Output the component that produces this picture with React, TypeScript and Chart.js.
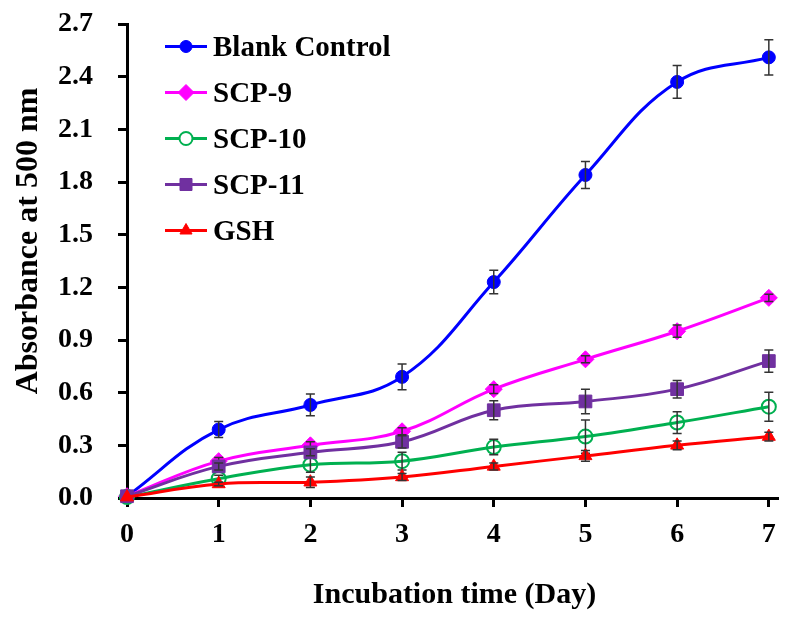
import React, { useEffect, useRef } from 'react';
import { Chart, registerables } from 'chart.js';
import { drawPoint } from 'chart.js/helpers';

Chart.register(...registerables);

// ---------- data ----------
const days = [0, 1, 2, 3, 4, 5, 6, 7];
const seriesNames = ['Blank Control', 'SCP-9', 'SCP-10', 'SCP-11', 'GSH'];

const blankControl = [0.01, 0.39, 0.53, 0.69, 1.23, 1.84, 2.37, 2.51];
const blankControlErr = [0, 0.046, 0.062, 0.074, 0.067, 0.077, 0.093, 0.1];

const scp9 = [0.01, 0.21, 0.3, 0.38, 0.62, 0.79, 0.95, 1.14];
const scp9Err = [0, 0.02, 0.02, 0.02, 0.025, 0.02, 0.035, 0.02];

const scp10 = [0.005, 0.11, 0.19, 0.21, 0.29, 0.35, 0.43, 0.52];
const scp10Err = [0, 0.02, 0.043, 0.05, 0.044, 0.095, 0.062, 0.083];

const scp11 = [0.01, 0.18, 0.26, 0.32, 0.5, 0.55, 0.62, 0.78];
const scp11Err = [0, 0.02, 0.02, 0.035, 0.054, 0.07, 0.05, 0.063];

const gsh = [0.005, 0.08, 0.09, 0.12, 0.18, 0.24, 0.3, 0.35];
const gshErr = [0, 0.01, 0.03, 0.02, 0.02, 0.03, 0.025, 0.025];

const yTickValues = [0, 0.3, 0.6, 0.9, 1.2, 1.5, 1.8, 2.1, 2.4, 2.7];
const xTickValues = [0, 1, 2, 3, 4, 5, 6, 7];

const xTitle = 'Incubation time (Day)';
const yTitle = 'Absorbance at 500 nm';

// ---------- styles ----------
const FONT = '"Times New Roman", "Liberation Serif", serif';
const seriesValues = [blankControl, scp9, scp10, scp11, gsh];
const seriesErrors = [blankControlErr, scp9Err, scp10Err, scp11Err, gshErr];
const seriesColors = ['#0000FF', '#FF00FF', '#00B050', '#7030A0', '#FF0000'];
const seriesStyles = ['circle', 'rectRot', 'circle', 'rect', 'triangle'];
const seriesRadius = [6.5, 8.5, 7, 9, 7.5];
const seriesFill = ['#0000FF', '#FF00FF', 'rgba(0,0,0,0)', '#7030A0', '#FF0000'];
const seriesPointBorder = [1, 1, 2, 1, 1];

const errorBarPlugin = {
  id: 'errorBars',
  afterDatasetDraw(chart: any, args: any) {
    const i = args.index;
    const errs = seriesErrors[i];
    const vals = seriesValues[i];
    const meta = chart.getDatasetMeta(i);
    const yScale = chart.scales.y;
    const ctx = chart.ctx;
    ctx.save();
    ctx.strokeStyle = '#333333';
    ctx.lineWidth = 1.5;
    meta.data.forEach((pt: any, j: number) => {
      const e = errs[j];
      if (!e) return;
      const x = pt.x;
      const yTop = yScale.getPixelForValue(vals[j] + e);
      const yBot = yScale.getPixelForValue(vals[j] - e);
      const cap = 4.5;
      ctx.beginPath();
      ctx.moveTo(x, yTop);
      ctx.lineTo(x, yBot);
      ctx.moveTo(x - cap, yTop);
      ctx.lineTo(x + cap, yTop);
      ctx.moveTo(x - cap, yBot);
      ctx.lineTo(x + cap, yBot);
      ctx.stroke();
    });
    ctx.restore();
  },
};

const decorPlugin = {
  id: 'decor',
  afterDraw(chart: any) {
    const ctx = chart.ctx;
    const area = chart.chartArea;
    ctx.save();
    // legend
    const lx0 = area.left + 38;
    const lx1 = area.left + 80;
    const lxm = (lx0 + lx1) / 2;
    const tx = area.left + 86;
    seriesNames.forEach((name, i) => {
      const y = area.top + 22.5 + i * 46;
      ctx.strokeStyle = seriesColors[i];
      ctx.lineWidth = 3;
      ctx.beginPath();
      ctx.moveTo(lx0, y);
      ctx.lineTo(lx1, y);
      ctx.stroke();
      ctx.fillStyle = i === 2 ? '#FFFFFF' : seriesColors[i];
      ctx.lineWidth = seriesPointBorder[i];
      drawPoint(ctx, {
        pointStyle: seriesStyles[i] as any,
        radius: seriesRadius[i] - 0.5,
        rotation: 0,
        borderWidth: seriesPointBorder[i],
      } as any, lxm, y);
      ctx.fillStyle = '#000000';
      ctx.font = `bold 29px ${FONT}`;
      ctx.textAlign = 'left';
      ctx.textBaseline = 'alphabetic';
      ctx.fillText(name, tx, y + 9.5);
    });
    // axis titles
    ctx.fillStyle = '#000000';
    ctx.font = `bold 30px ${FONT}`;
    ctx.textAlign = 'center';
    ctx.textBaseline = 'alphabetic';
    ctx.fillText(xTitle, (area.left + area.right) / 2 + 2, 603);
    ctx.save();
    ctx.translate(37, 241);
    ctx.rotate(-Math.PI / 2);
    ctx.font = `bold 32px ${FONT}`;
    ctx.fillText(yTitle, 0, 0);
    ctx.restore();
    ctx.restore();
  },
};

export default function App() {
  const canvasRef = useRef<HTMLCanvasElement | null>(null);

  useEffect(() => {
    if (!canvasRef.current) return;
    Chart.defaults.font.family = FONT;
    const datasets = seriesNames.map((name, i) => ({
      label: name,
      data: days.map((d, j) => ({ x: d, y: seriesValues[i][j] })),
      borderColor: seriesColors[i],
      backgroundColor: seriesFill[i],
      pointBackgroundColor: seriesFill[i],
      pointBorderColor: seriesColors[i],
      pointBorderWidth: seriesPointBorder[i],
      pointStyle: seriesStyles[i],
      pointRadius: seriesRadius[i],
      borderWidth: 3,
      tension: 0.4,
      fill: false,
      clip: false as any,
      order: seriesNames.length - i,
    }));

    const chart = new Chart(canvasRef.current, {
      type: 'line',
      data: { datasets },
      options: {
        animation: false,
        responsive: false,
        layout: { padding: { left: 0, top: 24, right: 16, bottom: 0 } },
        plugins: {
          legend: { display: false },
          tooltip: { enabled: false },
        },
        scales: {
          x: {
            type: 'linear',
            min: 0,
            max: 7.1,
            afterBuildTicks: (scale: any) => {
              scale.ticks = xTickValues.map((v) => ({ value: v }));
            },
            afterFit: (scale: any) => {
              scale.height = 121;
              scale.paddingLeft = 0;
              scale.paddingRight = 0;
            },
            ticks: {
              color: '#000',
              font: { size: 28, weight: 'bold' },
              padding: 11,
              maxRotation: 0,
              callback: (v: any) => String(v),
            },
            grid: {
              display: true,
              drawOnChartArea: false,
              drawTicks: true,
              tickLength: 9,
              tickWidth: 3,
              tickColor: '#000',
            },
            border: { display: true, width: 3, color: '#000' },
          },
          y: {
            type: 'linear',
            min: 0,
            max: 2.7,
            afterBuildTicks: (scale: any) => {
              scale.ticks = yTickValues.map((v) => ({ value: v }));
            },
            afterFit: (scale: any) => {
              scale.width = 127;
              scale.paddingTop = 0;
              scale.paddingBottom = 0;
            },
            ticks: {
              color: '#000',
              font: { size: 28, weight: 'bold' },
              padding: 25,
              callback: (v: any) => Number(v).toFixed(1),
            },
            grid: {
              display: true,
              drawOnChartArea: false,
              drawTicks: true,
              tickLength: 9,
              tickWidth: 3,
              tickColor: '#000',
            },
            border: { display: true, width: 3, color: '#000' },
          },
        },
      },
      plugins: [errorBarPlugin, decorPlugin],
    } as any);

    return () => chart.destroy();
  }, []);

  return (
    <div style={{ position: 'absolute', left: 0, top: 0, width: 794, height: 619, background: '#fff' }}>
      <canvas ref={canvasRef} width={794} height={619} style={{ display: 'block' }} />
    </div>
  );
}
